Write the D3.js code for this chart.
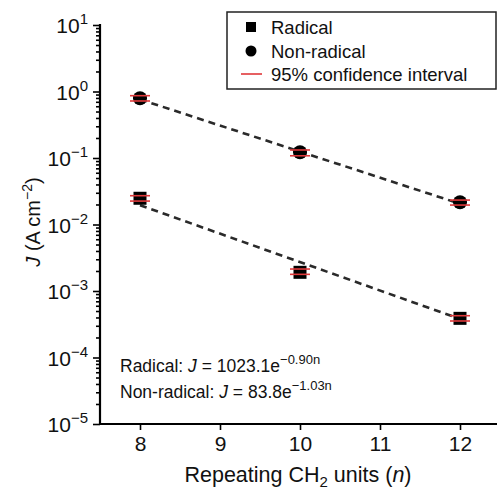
<!DOCTYPE html>
<html>
<head>
<meta charset="utf-8">
<script src="https://cdn.jsdelivr.net/npm/d3@7"></script>
<style>
  html, body { margin: 0; padding: 0; background: #fff; }
  svg { display: block; font-family: 'Liberation Sans', Arial, Helvetica, sans-serif; }
</style>
</head>
<body>
<script>
// repeating CH2 units
const nValues = [8, 10, 12];

// current density J (A cm^-2), mean and 95% CI bounds
const radical = [0.0248, 0.00191, 0.000388];
const radicalLo = [0.0225, 0.00178, 0.000354];
const radicalHi = [0.0271, 0.00214, 0.000425];

const nonRadical = [0.79, 0.122, 0.0216];
const nonRadicalLo = [0.72, 0.108, 0.0196];
const nonRadicalHi = [0.865, 0.132, 0.0233];

// fitted exponential lines (end points)
const fitN = [8, 12];
const fitRadical = [0.0195, 0.00038];
const fitNonRadical = [0.76, 0.0205];

const xTicks = [8, 9, 10, 11, 12];
const yDecades = [1, 0, -1, -2, -3, -4, -5];

const legendItems = ['Radical', 'Non-radical', '95% confidence interval'];

const width = 497;
const height = 489;

const svg = d3.select('body')
  .append('svg')
  .attr('width', width)
  .attr('height', height);

const x = d3.scaleLinear().domain([7.5, 12.5]).range([100, 500]);
const y = d3.scaleLog().domain([1e-5, 10]).range([424, 25]);

// axes
const majorVals = yDecades.map((e) => Math.pow(10, e));
const minorVals = y.ticks().filter((v) => !majorVals.some((m) => Math.abs(m - v) / m < 1e-6));

const yMinor = svg.append('g')
  .attr('transform', 'translate(100,0)')
  .call(d3.axisLeft(y).tickValues(minorVals).tickSize(4).tickFormat(''));
const yMajor = svg.append('g')
  .attr('transform', 'translate(100,0)')
  .call(d3.axisLeft(y).tickValues(majorVals).tickSize(7).tickFormat(''));

[yMinor, yMajor].forEach((g) => {
  g.select('.domain').remove();
  g.selectAll('.tick line').attr('stroke', '#000').attr('stroke-width', 1.6);
});

svg.append('line')
  .attr('x1', 100).attr('x2', 100)
  .attr('y1', y(10) - 1).attr('y2', y(1e-5))
  .attr('stroke', '#000').attr('stroke-width', 2.2);

// y tick labels with superscripts
const yLab = svg.append('g');
yDecades.forEach((e) => {
  const t = yLab.append('text')
    .attr('x', 88)
    .attr('y', y(Math.pow(10, e)) + 8)
    .attr('text-anchor', 'end')
    .attr('font-size', 21)
    .attr('fill', '#111');
  t.append('tspan').text('10');
  t.append('tspan')
    .attr('dy', -9)
    .attr('font-size', 15)
    .text(e < 0 ? '\u2212' + Math.abs(e) : String(e));
});

const xAxis = svg.append('g')
  .attr('transform', 'translate(0,424)')
  .call(d3.axisBottom(x).tickValues(xTicks).tickSize(6).tickPadding(6).tickFormat(d3.format('d')));
xAxis.select('.domain').remove();
xAxis.selectAll('.tick line').attr('stroke', '#000').attr('stroke-width', 1.6);
xAxis.selectAll('.tick text')
  .attr('font-size', 21)
  .attr('fill', '#111')
  .attr('font-family', "'Liberation Sans', Arial, sans-serif");

svg.append('line')
  .attr('x1', 99).attr('x2', width)
  .attr('y1', 424).attr('y2', 424)
  .attr('stroke', '#000').attr('stroke-width', 2.2);

// axis titles
const xt = svg.append('text')
  .attr('x', 298)
  .attr('y', 482)
  .attr('text-anchor', 'middle')
  .attr('font-size', 21.5)
  .attr('fill', '#111');
xt.append('tspan').text('Repeating CH');
xt.append('tspan').attr('font-size', 15).attr('dy', 5).text('2');
xt.append('tspan').attr('dy', -5).text(' units (');
xt.append('tspan').attr('font-style', 'italic').text('n');
xt.append('tspan').text(')');

const yt = svg.append('text')
  .attr('transform', 'translate(40,222) rotate(-90)')
  .attr('text-anchor', 'middle')
  .attr('font-size', 20)
  .attr('fill', '#111');
yt.append('tspan').attr('font-style', 'italic').text('J');
yt.append('tspan').text(' (A cm');
yt.append('tspan').attr('font-size', 14).attr('dy', -8).text('\u22122');
yt.append('tspan').attr('dy', 8).text(')');

// fit lines
const line = d3.line()
  .x((d) => x(d[0]))
  .y((d) => y(d[1]));

[fitRadical, fitNonRadical].forEach((fit) => {
  svg.append('path')
    .attr('d', line(fitN.map((n, i) => [n, fit[i]])))
    .attr('fill', 'none')
    .attr('stroke', '#2a2a2a')
    .attr('stroke-width', 2.6)
    .attr('stroke-dasharray', '7,5');
});

// markers
const radData = nValues.map((n, i) => ({ n, v: radical[i], lo: radicalLo[i], hi: radicalHi[i] }));
const nonData = nValues.map((n, i) => ({ n, v: nonRadical[i], lo: nonRadicalLo[i], hi: nonRadicalHi[i] }));

svg.append('g')
  .selectAll('rect')
  .data(radData)
  .join('rect')
  .attr('x', (d) => x(d.n) - 6.5)
  .attr('y', (d) => y(d.v) - 6.5)
  .attr('width', 13)
  .attr('height', 13)
  .attr('fill', '#000');

svg.append('g')
  .selectAll('circle')
  .data(nonData)
  .join('circle')
  .attr('cx', (d) => x(d.n))
  .attr('cy', (d) => y(d.v))
  .attr('r', 7)
  .attr('fill', '#000');

// confidence interval caps
const ci = svg.append('g').attr('stroke', '#e0393b').attr('stroke-width', 1.6);
radData.concat(nonData).forEach((d) => {
  [d.lo, d.hi].forEach((b) => {
    ci.append('line')
      .attr('x1', x(d.n) - 10).attr('x2', x(d.n) + 10)
      .attr('y1', y(b)).attr('y2', y(b));
  });
});

// annotations
const ann = [
  { label: 'Radical: ', coef: '1023.1', exp: '\u22120.90n', yy: 372 },
  { label: 'Non-radical: ', coef: '83.8', exp: '\u22121.03n', yy: 398 },
];
ann.forEach((a) => {
  const t = svg.append('text')
    .attr('x', 120)
    .attr('y', a.yy)
    .attr('font-size', 17.5)
    .attr('fill', '#111');
  t.append('tspan').text(a.label);
  t.append('tspan').attr('font-style', 'italic').text('J');
  t.append('tspan').text(' = ' + a.coef + 'e');
  t.append('tspan').attr('font-size', 13).attr('dy', -8).text(a.exp);
});

// legend
const lg = svg.append('g');
lg.append('rect')
  .attr('x', 227).attr('y', 12)
  .attr('width', 269).attr('height', 77)
  .attr('fill', '#fff')
  .attr('stroke', '#222')
  .attr('stroke-width', 1.5);

const rowY = [27, 51, 74];
lg.append('rect').attr('x', 246).attr('y', rowY[0] - 5).attr('width', 10).attr('height', 10).attr('fill', '#000');
lg.append('circle').attr('cx', 251).attr('cy', rowY[1]).attr('r', 5.5).attr('fill', '#000');
lg.append('line')
  .attr('x1', 241).attr('x2', 262)
  .attr('y1', rowY[2]).attr('y2', rowY[2])
  .attr('stroke', '#e0393b').attr('stroke-width', 1.6);

lg.selectAll('text.item')
  .data(legendItems)
  .join('text')
  .attr('class', 'item')
  .attr('x', 271)
  .attr('y', (d, i) => rowY[i] + 6.5)
  .attr('font-size', 18.5)
  .attr('fill', '#111')
  .text((d) => d);
</script>
</body>
</html>
